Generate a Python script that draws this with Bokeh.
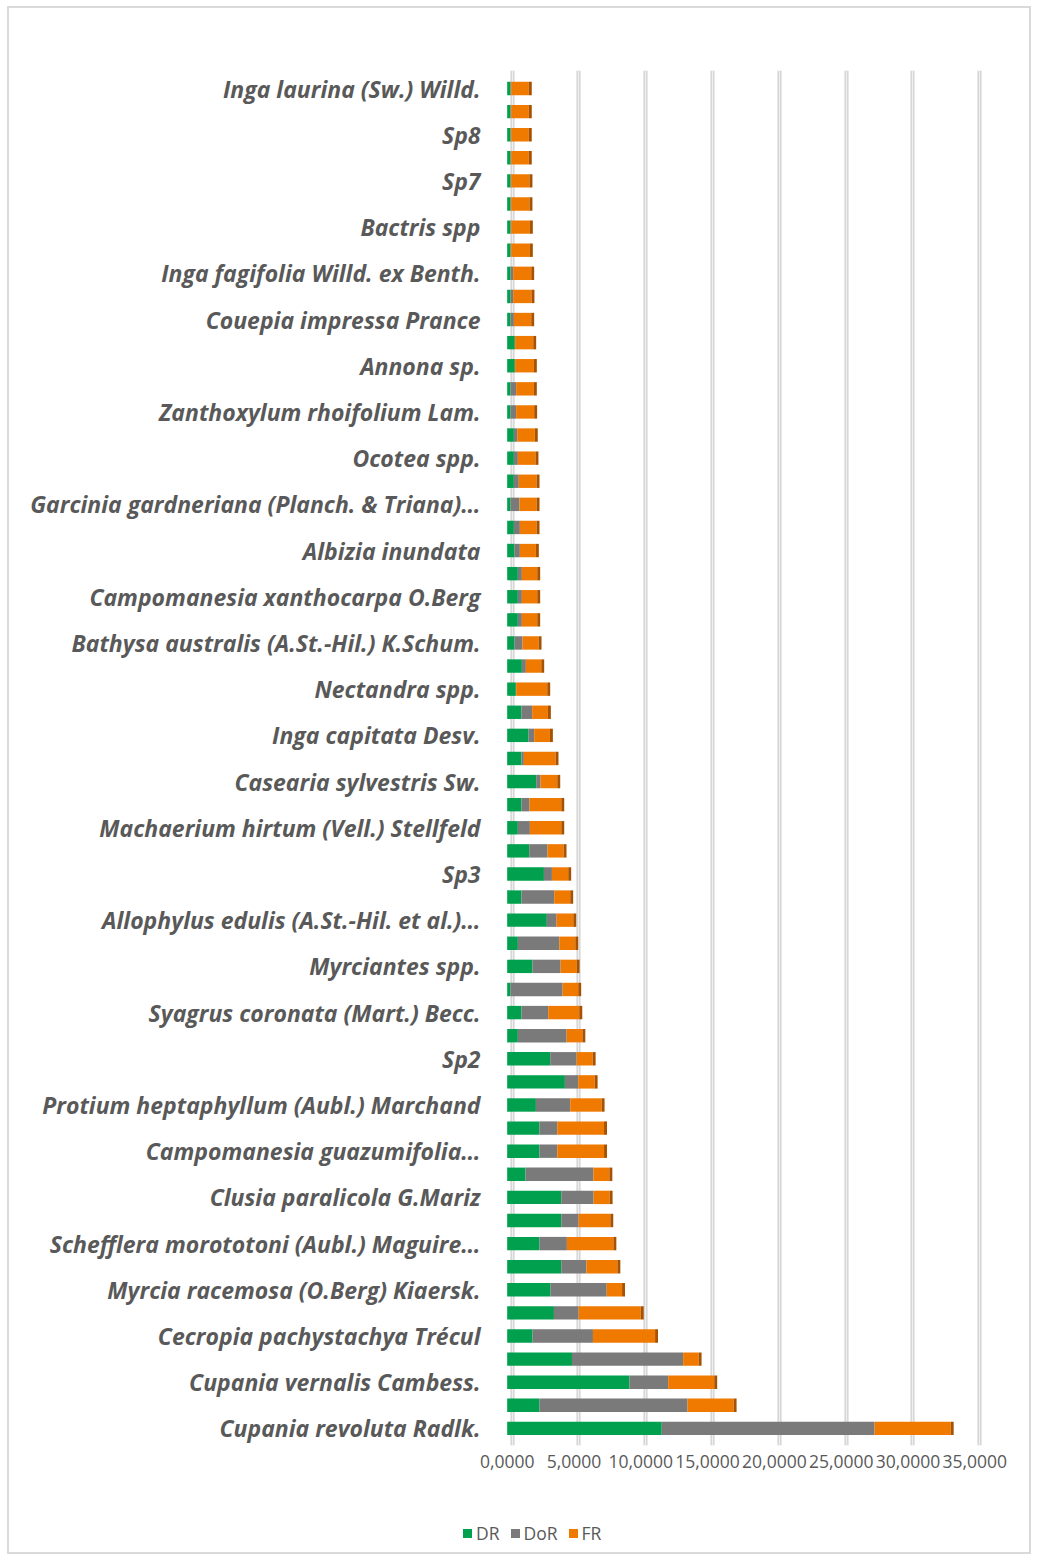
from bokeh.plotting import figure
from bokeh.layouts import column
from bokeh.models import ColumnDataSource, FixedTicker, CustomJSTickFormatter, Range1d, Grid, Div
from bokeh.embed import file_html
from bokeh.resources import INLINE

# Species labels shown on the axis (every other bar), listed top to bottom
labels_top_down = [
    "Inga laurina (Sw.) Willd.",
    "Sp8",
    "Sp7",
    "Bactris spp",
    "Inga fagifolia Willd. ex Benth.",
    "Couepia impressa Prance",
    "Annona sp.",
    "Zanthoxylum rhoifolium Lam.",
    "Ocotea spp.",
    "Garcinia gardneriana (Planch. & Triana)\u2026",
    "Albizia inundata",
    "Campomanesia xanthocarpa O.Berg",
    "Bathysa australis (A.St.-Hil.) K.Schum.",
    "Nectandra spp.",
    "Inga capitata Desv.",
    "Casearia sylvestris Sw.",
    "Machaerium hirtum (Vell.) Stellfeld",
    "Sp3",
    "Allophylus edulis (A.St.-Hil. et al.)\u2026",
    "Myrciantes spp.",
    "Syagrus coronata (Mart.) Becc.",
    "Sp2",
    "Protium heptaphyllum (Aubl.) Marchand",
    "Campomanesia guazumifolia\u2026",
    "Clusia paralicola G.Mariz",
    "Schefflera morototoni (Aubl.) Maguire\u2026",
    "Myrcia racemosa (O.Berg) Kiaersk.",
    "Cecropia pachystachya Tr\u00e9cul",
    "Cupania vernalis Cambess.",
    "Cupania revoluta Radlk.",
]

# Values for all 59 bars, listed top to bottom
dr_top_down = [0.25, 0.25, 0.25, 0.25, 0.25, 0.25, 0.25, 0.25, 0.25, 0.25,
               0.25, 0.57, 0.57, 0.25, 0.25, 0.50, 0.50, 0.50, 0.25, 0.50,
               0.55, 0.80, 0.80, 0.80, 0.55, 1.10, 0.65, 1.07, 1.60, 1.07,
               2.17, 1.07, 0.80, 1.65, 2.75, 1.07, 2.97, 0.80, 1.90, 0.25,
               1.07, 0.80, 3.22, 4.32, 2.15, 2.42, 2.42, 1.37, 4.05, 4.05,
               2.42, 4.05, 3.25, 3.50, 1.90, 4.85, 9.15, 2.42, 11.57]
dor_top_down = [0.05, 0.05, 0.05, 0.05, 0.05, 0.05, 0.05, 0.05, 0.20, 0.20,
                0.25, 0.02, 0.02, 0.42, 0.42, 0.25, 0.30, 0.37, 0.67, 0.45,
                0.40, 0.30, 0.30, 0.30, 0.60, 0.30, 0.02, 0.80, 0.42, 0.18,
                0.33, 0.60, 0.90, 1.37, 0.60, 2.45, 0.73, 3.10, 2.10, 3.90,
                2.00, 3.65, 1.98, 1.00, 2.57, 1.33, 1.33, 5.08, 2.42, 1.30,
                2.05, 1.88, 4.20, 1.85, 4.52, 8.32, 2.90, 11.08, 15.93]
fr_top_down = [1.32, 1.32, 1.32, 1.32, 1.37, 1.37, 1.40, 1.40, 1.35, 1.37,
               1.30, 1.36, 1.41, 1.33, 1.35, 1.32, 1.32, 1.33, 1.28, 1.25,
               1.20, 1.15, 1.15, 1.15, 1.20, 1.15, 2.33, 1.18, 1.18, 2.37,
               1.25, 2.38, 2.35, 1.20, 1.22, 1.20, 1.25, 1.20, 1.20, 1.17,
               2.33, 1.18, 1.20, 1.23, 2.35, 3.50, 3.50, 1.20, 1.20, 2.37,
               3.48, 2.32, 1.15, 4.65, 4.65, 1.16, 3.45, 3.45, 5.70]

x_ticks = [0, 5, 10, 15, 20, 25, 30, 35]
series_names = ["DR", "DoR", "FR"]
series_colors = ["#00A04E", "#7A7A7A", "#F07A00"]

# bottom-to-top order for plotting
dr = dr_top_down[::-1]
dor = dor_top_down[::-1]
fr = fr_top_down[::-1]
n = len(dr)
ypos = list(range(n))
total = [a + b + c for a, b, c in zip(dr, dor, fr)]
cap = [t + 0.22 for t in total]

src = ColumnDataSource(dict(y=ypos, DR=dr, DoR=dor, FR=fr, total=total, cap=cap))

labels_bottom_up = labels_top_down[::-1]
label_pos = list(range(0, n, 2))
overrides = {p: lab for p, lab in zip(label_pos, labels_bottom_up)}

TEXT = "#595959"

p = figure(width=1020, height=1485, output_backend="svg", toolbar_location=None,
           x_range=Range1d(-0.5, 37.0), y_range=Range1d(-0.74, 58.78),
           min_border_left=491, min_border_right=28, min_border_top=62, min_border_bottom=48)
p.outline_line_color = None
p.background_fill_color = "white"
p.border_fill_color = "white"

# back-wall gridlines (3D depth offset)
p.extra_x_ranges = {"wall": Range1d(-0.5 - 0.375, 37.0 - 0.375)}
p.xgrid.visible = False
p.ygrid.visible = False
g = Grid(dimension=0, ticker=FixedTicker(ticks=x_ticks), x_range_name="wall",
         grid_line_color="#cfcfcf", grid_line_width=4)
p.add_layout(g)
g2 = Grid(dimension=0, ticker=FixedTicker(ticks=x_ticks), x_range_name="wall",
          grid_line_color="#efefef", grid_line_width=1.5)
p.add_layout(g2)

p.hbar_stack(series_names, y="y", height=0.58, color=series_colors,
             source=src, line_color=None)
p.hbar(y="y", left="total", right="cap", height=0.58, source=src,
       fill_color="#A85200", line_color=None)

p.xaxis.ticker = FixedTicker(ticks=x_ticks)
p.xaxis.formatter = CustomJSTickFormatter(code="return tick.toFixed(4).replace('.', ',');")
p.xaxis.axis_line_color = None
p.xaxis.major_tick_line_color = None
p.xaxis.minor_tick_line_color = None
p.xaxis.major_tick_out = 0
p.xaxis.major_label_text_font = "Open Sans"
p.xaxis.major_label_text_font_size = "17.5px"
p.xaxis.major_label_text_color = TEXT
p.xaxis.major_label_standoff = 9

p.yaxis.ticker = FixedTicker(ticks=label_pos)
p.yaxis.major_label_overrides = overrides
p.yaxis.axis_line_color = None
p.yaxis.major_tick_line_color = None
p.yaxis.minor_tick_line_color = None
p.yaxis.major_tick_out = 0
p.yaxis.major_label_text_font = "Open Sans"
p.yaxis.major_label_text_font_style = "bold italic"
p.yaxis.major_label_text_font_size = "23px"
p.yaxis.major_label_text_color = TEXT
p.yaxis.major_label_standoff = 20

# legend strip below the chart (HTML, real text)
items_html = "".join(
    '<span style="display:inline-flex;align-items:center;margin-right:11px;">'
    f'<span style="display:inline-block;width:9px;height:9px;background:{c};margin-right:4px;"></span>{nm}</span>'
    for nm, c in zip(series_names, series_colors)
)
legend_div = Div(
    text=('<div style="display:flex;align-items:center;height:22px;margin-left:454px;'
          'margin-top:29px;font-family:\'Open Sans\';font-size:17.5px;color:%s;">%s</div>'
          % (TEXT, items_html)),
    width=1020, height=59, margin=0,
)

layout = column(p, legend_div, spacing=0,
                styles={"border": "2px solid #d9d9d9", "margin": "6px 0 0 7px"})

open("out.html", "w").write(file_html(layout, INLINE))
